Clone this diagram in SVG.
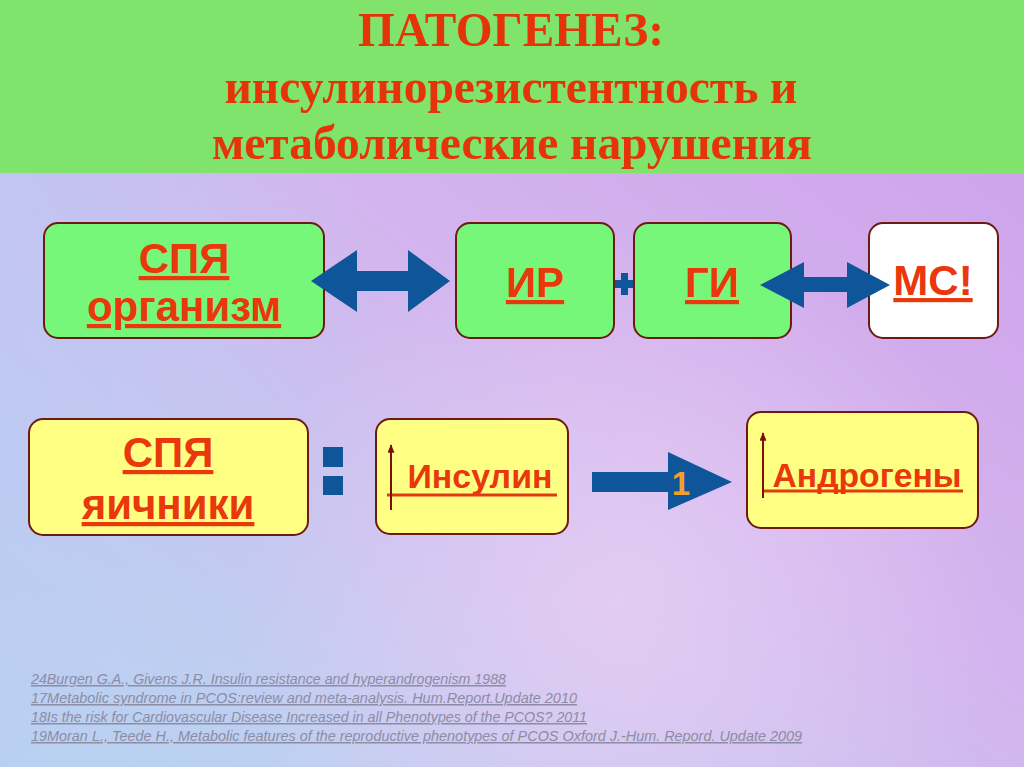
<svg xmlns="http://www.w3.org/2000/svg" width="1024" height="767" viewBox="0 0 1024 767">
<defs>
<linearGradient id="bg" x1="1" y1="0" x2="0" y2="1">
<stop offset="0" stop-color="#cc9fea"/>
<stop offset="0.45" stop-color="#d4b4ee"/>
<stop offset="1" stop-color="#b6dcf2"/>
</linearGradient>
<radialGradient id="glow" cx="620" cy="600" r="380" gradientUnits="userSpaceOnUse">
<stop offset="0" stop-color="#e6cef4" stop-opacity="0.85"/>
<stop offset="1" stop-color="#e6cef4" stop-opacity="0"/>
</radialGradient>
<linearGradient id="leftblue" x1="0" y1="0" x2="1" y2="0">
<stop offset="0" stop-color="#bcc8f2" stop-opacity="0.6"/>
<stop offset="0.35" stop-color="#bcc8f2" stop-opacity="0"/>
</linearGradient>
<marker id="up" viewBox="0 0 12 10" refX="11" refY="5" markerWidth="11" markerHeight="7" orient="auto" markerUnits="userSpaceOnUse">
<path d="M0,0 L12,5 L0,10 Z" fill="#7a1008"/>
</marker>
<style>
.box{stroke:#6e1a12;stroke-width:2}
.green{fill:#76f77a}
.yellow{fill:#ffff84}
.white{fill:#ffffff}
.lbl{font-family:"Liberation Sans",Arial,sans-serif;font-weight:bold;fill:#e8380c;text-anchor:middle}
.big{font-size:42px;text-decoration:underline}
.mid{font-size:34px}
.title{font-family:"Liberation Serif","Times New Roman",serif;font-weight:bold;fill:#e6340a;text-anchor:middle;font-size:49px}
.ref{font-family:"Liberation Sans",Arial,sans-serif;font-style:italic;font-size:15px;fill:#8c8ca4;text-decoration:underline}
.blue{fill:#0f5599}
.axis{stroke:#e03a10;stroke-width:3}
.uparrow{stroke:#7a1008;stroke-width:2;marker-end:url(#up)}
</style>
</defs>
<rect x="0" y="0" width="1024" height="767" fill="url(#bg)"/>
<rect x="0" y="0" width="1024" height="767" fill="url(#leftblue)"/>
<rect x="0" y="0" width="1024" height="767" fill="url(#glow)"/>
<rect x="0" y="0" width="1024" height="173" fill="#80e36b"/>
<g id="title">
<text class="title" x="511" y="46" textLength="306" lengthAdjust="spacingAndGlyphs">ПАТОГЕНЕЗ:</text>
<text class="title" x="511" y="103" textLength="573" lengthAdjust="spacingAndGlyphs">инсулинорезистентность и</text>
<text class="title" x="512" y="159" textLength="600" lengthAdjust="spacingAndGlyphs">метаболические нарушения</text>
</g>
<g id="node-spya-organism">
<rect class="box green" x="44" y="223" width="280" height="115" rx="14"/>
<text class="lbl big" x="184" y="273">СПЯ</text>
<text class="lbl big" x="184" y="321">организм</text>
</g>
<g id="node-ir">
<rect class="box green" x="456" y="223" width="158" height="115" rx="14"/>
<text class="lbl big" x="535" y="297">ИР</text>
</g>
<g id="node-gi">
<rect class="box green" x="634" y="223" width="157" height="115" rx="14"/>
<text class="lbl big" x="712" y="297">ГИ</text>
</g>
<g id="node-ms">
<rect class="box white" x="869" y="223" width="129" height="115" rx="14"/>
<text class="lbl big" x="933" y="295">МС!</text>
</g>
<g id="node-spya-ovaries">
<rect class="box yellow" x="29" y="419" width="279" height="116" rx="14"/>
<text class="lbl big" x="168" y="467">СПЯ</text>
<text class="lbl big" x="168" y="519">яичники</text>
</g>
<g id="node-insulin">
<rect class="box yellow" x="376" y="419" width="192" height="115" rx="14"/>
<line class="axis" x1="387" y1="495" x2="557" y2="495"/>
<line class="uparrow" x1="391" y1="510" x2="391" y2="445"/>
<text class="lbl mid" x="480" y="488" textLength="145" lengthAdjust="spacingAndGlyphs">Инсулин</text>
</g>
<g id="node-androgens">
<rect class="box yellow" x="747" y="412" width="231" height="116" rx="14"/>
<line class="axis" x1="762" y1="491" x2="963" y2="491"/>
<line class="uparrow" x1="763" y1="498" x2="763" y2="433"/>
<text class="lbl mid" x="867" y="487" textLength="189" lengthAdjust="spacingAndGlyphs">Андрогены</text>
</g>
<g id="connectors">
<polygon class="blue" points="311,281 357,250 357,271 408,271 408,250 450,281 408,312 408,291 357,291 357,312"/>
<path class="blue" d="M615,280 H633 V288 H615 Z M621,273 H628 V295 H621 Z"/>
<polygon class="blue" points="760,285 804,262 804,277 847,277 847,262 890,285 847,308 847,292 804,292 804,308"/>
<rect class="blue" x="323" y="447" width="20" height="20"/>
<rect class="blue" x="323" y="476" width="20" height="19"/>
<polygon class="blue" points="592,472 668,472 668,452 732,482 668,510 668,492 592,492"/>
<text x="681" y="495" font-family="Liberation Sans, Arial, sans-serif" font-weight="bold" font-size="33" fill="#f0a030" text-anchor="middle">1</text>
</g>
<g id="references">
<text class="ref" x="31" y="684" textLength="475" lengthAdjust="spacingAndGlyphs">24Burgen G.A., Givens J.R. Insulin resistance and hyperandrogenism 1988</text>
<text class="ref" x="31" y="703" textLength="546" lengthAdjust="spacingAndGlyphs">17Metabolic syndrome in PCOS:review and meta-analysis. Hum.Report.Update 2010</text>
<text class="ref" x="31" y="722" textLength="556" lengthAdjust="spacingAndGlyphs">18Is the risk for Cardiovascular Disease Increased in all Phenotypes of the PCOS? 2011</text>
<text class="ref" x="31" y="741" textLength="771" lengthAdjust="spacingAndGlyphs">19Moran L., Teede H., Metabolic features of the reproductive phenotypes of PCOS Oxford J.-Hum. Repord. Update 2009</text>
</g>
</svg>
